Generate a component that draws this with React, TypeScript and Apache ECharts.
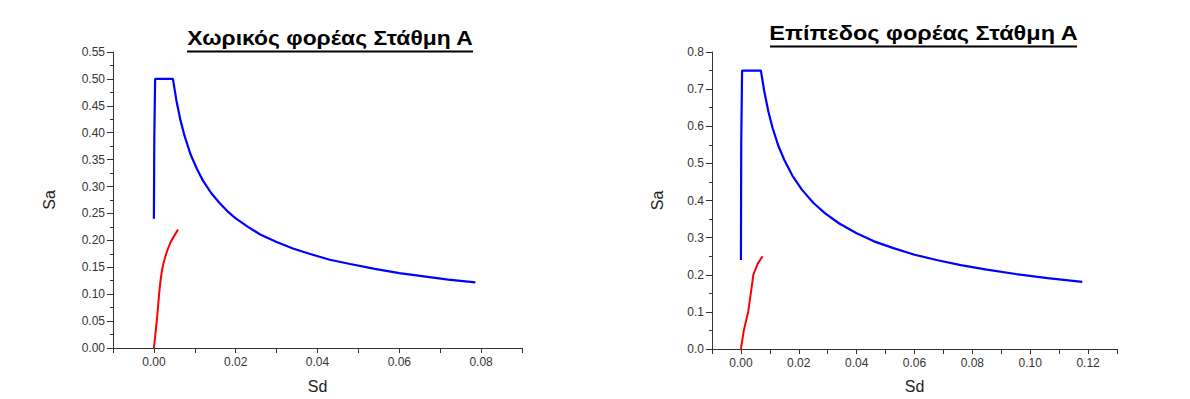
import React, { useEffect, useRef } from "react";
import * as echarts from "echarts";

// Chart 1: Χωρικός φορέας (spatial frame)
const blue1: [number, number][] = [
  [0.0, 0.24], [0.0001, 0.39], [0.0003, 0.5], [0.00465, 0.5], [0.0055, 0.46],
  [0.0065, 0.423], [0.0075, 0.394], [0.009, 0.359], [0.0105, 0.333], [0.012, 0.311],
  [0.014, 0.288], [0.016, 0.27], [0.018, 0.254], [0.02, 0.241], [0.023, 0.225],
  [0.026, 0.211], [0.03, 0.197], [0.034, 0.185], [0.038, 0.175], [0.043, 0.164],
  [0.048, 0.156], [0.054, 0.147], [0.06, 0.139], [0.066, 0.133], [0.072, 0.127],
  [0.0786, 0.122],
];
const red1: [number, number][] = [
  [0.0, 0.0], [0.0007, 0.05], [0.0014, 0.11], [0.002, 0.145], [0.0028, 0.17],
  [0.004, 0.195], [0.0059, 0.22],
];

// Chart 2: Επίπεδος φορέας (planar frame)
const blue2: [number, number][] = [
  [0.0, 0.24], [0.0001, 0.55], [0.0004, 0.75], [0.0069, 0.75], [0.008, 0.697],
  [0.0095, 0.639], [0.011, 0.594], [0.013, 0.546], [0.015, 0.509], [0.018, 0.464],
  [0.021, 0.43], [0.025, 0.394], [0.029, 0.366], [0.034, 0.338], [0.04, 0.312],
  [0.046, 0.29], [0.053, 0.271], [0.06, 0.254], [0.068, 0.239], [0.076, 0.226],
  [0.085, 0.214], [0.095, 0.202], [0.106, 0.191], [0.118, 0.181],
];
const red2: [number, number][] = [
  [0.0, 0.0], [0.001, 0.05], [0.0025, 0.1], [0.0036, 0.16], [0.0043, 0.2],
  [0.0058, 0.23], [0.0075, 0.25],
];

const titles = ["Χωρικός φορέας Στάθμη Α", "Επίπεδος φορέας Στάθμη Α"];
const xNames = ["Sd", "Sd"];
const yNames = ["Sa", "Sa"];

const FONT = "'Liberation Sans', Arial, sans-serif";
const AXIS_COLOR = "#333";

function xLabel(v: number) {
  const k = Math.round(v * 100);
  return k >= 0 && k % 2 === 0 ? (k / 100).toFixed(2) : "";
}

function makeX(gridIndex: number, max: number, nameGap: number) {
  return {
    type: "value",
    gridIndex,
    min: -0.01,
    max,
    interval: 0.01,
    name: xNames[gridIndex],
    nameLocation: "middle",
    nameGap,
    nameTextStyle: { fontFamily: FONT, fontSize: 16, color: "#222" },
    axisLine: { show: true, onZero: false, lineStyle: { color: AXIS_COLOR, width: 1 } },
    axisTick: { show: true, inside: false, length: 5, lineStyle: { color: AXIS_COLOR } },
    axisLabel: { formatter: xLabel, fontFamily: FONT, fontSize: 12, color: "#333", margin: 8, showMinLabel: true, showMaxLabel: true },
    splitLine: { show: false },
  };
}

function makeY(gridIndex: number, max: number, interval: number, digits: number, nameGap: number) {
  return {
    type: "value",
    gridIndex,
    min: 0,
    max,
    interval,
    name: yNames[gridIndex],
    nameLocation: "middle",
    nameGap,
    nameTextStyle: { fontFamily: FONT, fontSize: 16, color: "#222" },
    axisLine: { show: true, onZero: false, lineStyle: { color: AXIS_COLOR, width: 1 } },
    axisTick: { show: true, inside: false, length: 6, lineStyle: { color: AXIS_COLOR } },
    minorTick: { show: true, splitNumber: 2, length: 3, lineStyle: { color: AXIS_COLOR } },
    axisLabel: { formatter: (v: number) => v.toFixed(digits), fontFamily: FONT, fontSize: 12, color: "#333", margin: 8 },
    splitLine: { show: false },
    minorSplitLine: { show: false },
  };
}

export default function App() {
  const ref = useRef<HTMLDivElement>(null);
  useEffect(() => {
    document.body.style.margin = "0";
    const chart = echarts.init(ref.current!, undefined, { renderer: "svg" });
    chart.setOption({
      animation: false,
      backgroundColor: "#ffffff",
      grid: [
        { left: 113, top: 52, width: 409, height: 301 },
        { left: 712, top: 52, width: 405, height: 300 },
      ],
      xAxis: [makeX(0, 0.09, 30), makeX(1, 0.13, 29)],
      yAxis: [makeY(0, 0.55, 0.05, 2, 56), makeY(1, 0.8, 0.1, 1, 47)],
      series: [
        { type: "line", xAxisIndex: 0, yAxisIndex: 0, data: blue1, showSymbol: false, lineStyle: { color: "#0000ff", width: 2.2 }, itemStyle: { color: "#0000ff" } },
        { type: "line", xAxisIndex: 0, yAxisIndex: 0, data: red1, showSymbol: false, smooth: 0.3, lineStyle: { color: "#ff0000", width: 2 }, itemStyle: { color: "#ff0000" } },
        { type: "line", xAxisIndex: 1, yAxisIndex: 1, data: blue2, showSymbol: false, lineStyle: { color: "#0000ff", width: 2.2 }, itemStyle: { color: "#0000ff" } },
        { type: "line", xAxisIndex: 1, yAxisIndex: 1, data: red2, showSymbol: false, lineStyle: { color: "#ff0000", width: 2 }, itemStyle: { color: "#ff0000" } },
      ],
      graphic: [
        { type: "text", x: 330, y: 27, scaleX: 1.09, style: { text: titles[0], fill: "#000", font: `bold 21px ${FONT}`, textAlign: "center", textVerticalAlign: "top" } },
        { type: "rect", shape: { x: 187, y: 50.5, width: 286, height: 2 }, style: { fill: "#000" } },
        { type: "text", x: 923.5, y: 22, scaleX: 1.12, style: { text: titles[1], fill: "#000", font: `bold 21px ${FONT}`, textAlign: "center", textVerticalAlign: "top" } },
        { type: "rect", shape: { x: 770, y: 45.5, width: 307, height: 2 }, style: { fill: "#000" } },
      ],
    });
    return () => chart.dispose();
  }, []);
  return <div ref={ref} style={{ width: 1190, height: 399 }} />;
}
